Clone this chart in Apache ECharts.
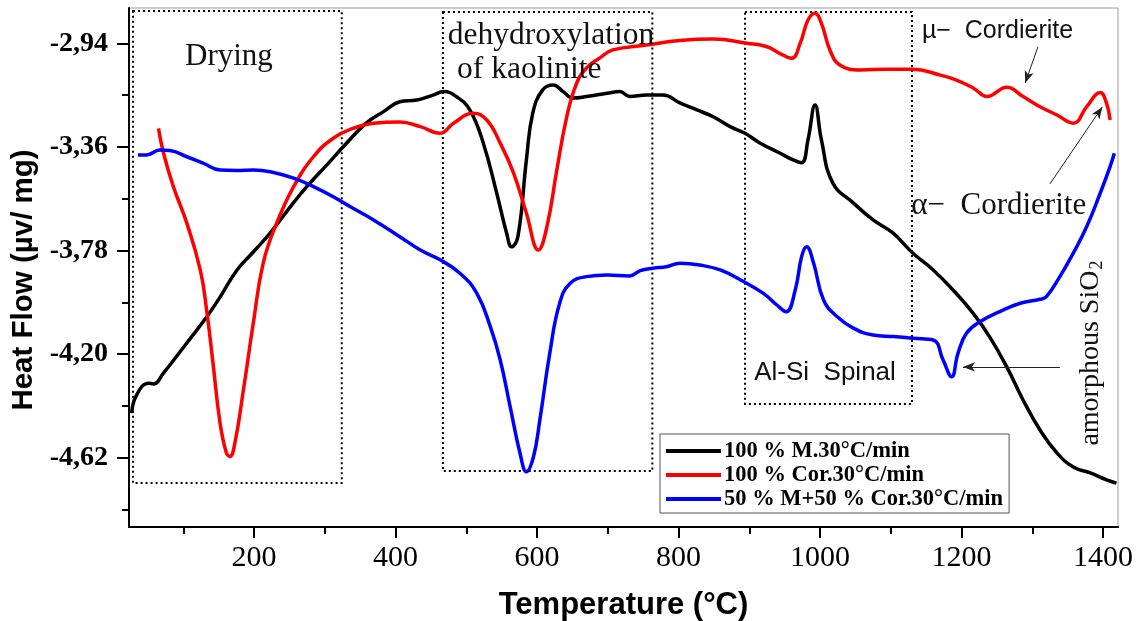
<!DOCTYPE html>
<html>
<head>
<meta charset="utf-8">
<script src="https://cdn.jsdelivr.net/npm/echarts@6/dist/echarts.min.js"></script>
<style>
  html, body { margin: 0; padding: 0; background: #fff; }
  #chart { width: 1140px; height: 621px; }
</style>
</head>
<body>
<div id="chart"></div>
<script>
// DSC heat-flow curves, temperature in °C, heat flow in µV/mg
const seriesNames = ['100 % M.30°C/min', '100 % Cor.30°C/min', '50 % M+50 % Cor.30°C/min'];

const tempM = [27,34,51,58,72,105,133,152,176,199,223,251,274,303,331,359,383,406,430,453,468,486,505,524,543,557,564,573,585,594,608,623,637,651,670,699,717,731,755,778,802,826,849,873,894,915,943,962,974,983,993,1002,1018,1047,1075,1103,1131,1160,1188,1216,1240,1264,1287,1311,1335,1358,1382,1405,1419];
const heatM = [-4.439,-4.366,-4.318,-4.321,-4.277,-4.155,-4.050,-3.969,-3.859,-3.786,-3.709,-3.604,-3.523,-3.433,-3.344,-3.263,-3.217,-3.177,-3.170,-3.150,-3.136,-3.156,-3.210,-3.344,-3.547,-3.709,-3.765,-3.724,-3.413,-3.223,-3.129,-3.109,-3.136,-3.162,-3.156,-3.143,-3.136,-3.156,-3.150,-3.150,-3.182,-3.210,-3.238,-3.278,-3.305,-3.344,-3.385,-3.413,-3.424,-3.332,-3.190,-3.332,-3.506,-3.587,-3.656,-3.709,-3.790,-3.859,-3.940,-4.033,-4.131,-4.252,-4.386,-4.508,-4.601,-4.658,-4.682,-4.710,-4.723];

const tempCor = [65,72,86,105,124,133,142,152,161,166,173,185,199,213,232,256,284,312,340,369,406,435,463,482,510,529,548,567,585,602,614,628,642,656,670,689,707,755,802,849,897,925,943,960,972,983,993,1002,1014,1028,1057,1094,1131,1170,1193,1217,1236,1264,1287,1311,1335,1358,1377,1396,1405,1410];
const heatCor = [-3.285,-3.385,-3.521,-3.669,-3.859,-4.021,-4.236,-4.479,-4.601,-4.615,-4.560,-4.346,-4.074,-3.831,-3.669,-3.521,-3.400,-3.325,-3.285,-3.264,-3.259,-3.278,-3.305,-3.264,-3.224,-3.251,-3.345,-3.467,-3.629,-3.778,-3.683,-3.454,-3.238,-3.102,-3.040,-2.999,-2.967,-2.947,-2.929,-2.923,-2.940,-2.954,-2.981,-3.001,-2.940,-2.846,-2.818,-2.859,-2.967,-3.028,-3.048,-3.045,-3.045,-3.069,-3.089,-3.122,-3.156,-3.118,-3.156,-3.197,-3.231,-3.264,-3.197,-3.140,-3.183,-3.251];

const tempMix = [36,48,67,81,105,128,152,176,199,223,256,284,312,340,369,406,435,463,491,515,534,548,562,576,585,595,604,618,632,647,670,699,731,746,764,783,802,830,859,892,920,939,952,965,974,981,991,1005,1024,1047,1075,1104,1132,1160,1174,1186,1195,1207,1226,1254,1283,1311,1320,1339,1358,1377,1396,1410,1416];
const heatMix = [-3.393,-3.393,-3.373,-3.375,-3.400,-3.426,-3.454,-3.456,-3.454,-3.461,-3.487,-3.521,-3.562,-3.609,-3.656,-3.724,-3.778,-3.818,-3.872,-3.954,-4.089,-4.224,-4.413,-4.602,-4.677,-4.616,-4.467,-4.197,-3.994,-3.913,-3.886,-3.879,-3.883,-3.862,-3.852,-3.846,-3.832,-3.839,-3.859,-3.906,-3.954,-4.001,-4.028,-3.940,-3.805,-3.765,-3.832,-3.981,-4.048,-4.095,-4.123,-4.129,-4.136,-4.143,-4.224,-4.292,-4.197,-4.116,-4.069,-4.028,-3.994,-3.978,-3.967,-3.886,-3.791,-3.683,-3.548,-3.440,-3.386];

// Axis ticks
const xMajorTicks = [200, 400, 600, 800, 1000, 1200, 1400];
const xMinorTicks = [100, 300, 500, 700, 900, 1100, 1300];
const yMajorTicks = [-4.62, -4.20, -3.78, -3.36, -2.94];
const yMinorTicks = [-4.83, -4.41, -3.99, -3.57, -3.15];

// Temperature ranges of the reaction stages (dotted boxes): [t0, t1, top, bottom]
const stageBoxes = [
  [29, 324, -2.809, -4.723],
  [467, 763, -2.813, -4.674],
  [894, 1130, -2.813, -4.402]
];

// Pointer arrows: [fromT, fromHF, toT, toHF]
const arrows = [
  [1308, -2.955, 1290, -3.101],
  [1325, -3.510, 1399, -3.198],
  [1339, -4.252, 1202, -4.252]
];

const X_MIN = 23.3, X_MAX = 1421.2, Y_MIN = -4.901, Y_MAX = -2.797;
const SERIF = "'Liberation Serif', 'Times New Roman', serif";
const SANS = "'Liberation Sans', Arial, sans-serif";
const colors = ['#000000', '#ff0000', '#0000ff'];

const zip = (xs, ys) => xs.map((x, i) => [x, ys[i]]);
const curves = [zip(tempM, heatM), zip(tempCor, heatCor), zip(tempMix, heatMix)];

const chart = echarts.init(document.getElementById('chart'), null, { renderer: 'canvas' });

const axisBase = { min: X_MIN, max: X_MAX, type: 'value', splitLine: { show: false } };

const option = {
  animation: false,
  backgroundColor: '#ffffff',
  grid: {
    left: 129, right: 22, top: 8, bottom: 94,
    outerBoundsMode: 'none', containLabel: false,
    show: true, borderColor: '#9a9a9a', borderWidth: 1
  },
  xAxis: [
    Object.assign({}, axisBase, {
      position: 'bottom',
      name: 'Temperature (°C)',
      nameLocation: 'middle',
      nameGap: 63,
      nameTextStyle: { fontFamily: SANS, fontWeight: 'bold', fontSize: 31, color: '#000' },
      axisLine: { show: true, lineStyle: { color: '#000', width: 2 } },
      axisTick: { show: true, customValues: xMajorTicks, length: 11, lineStyle: { color: '#000', width: 2 } },
      axisLabel: { customValues: xMajorTicks, margin: 16, fontFamily: SERIF, fontSize: 30, color: '#000', formatter: v => String(v) }
    }),
    Object.assign({}, axisBase, {
      position: 'bottom',
      axisLine: { show: false },
      axisTick: { show: true, customValues: xMinorTicks, length: 7, lineStyle: { color: '#000', width: 2 } },
      axisLabel: { show: false }
    })
  ],
  yAxis: [
    {
      type: 'value', min: Y_MIN, max: Y_MAX, position: 'left', splitLine: { show: false },
      axisLine: { show: true, lineStyle: { color: '#000', width: 2 } },
      axisTick: { show: true, customValues: yMajorTicks, length: 12, lineStyle: { color: '#000', width: 2 } },
      axisLabel: {
        customValues: yMajorTicks, margin: 21, fontFamily: SERIF, fontWeight: 'bold', fontSize: 28, color: '#000',
        formatter: v => v.toFixed(2).replace('.', ',')
      }
    },
    {
      type: 'value', min: Y_MIN, max: Y_MAX, position: 'left', splitLine: { show: false },
      axisLine: { show: false },
      axisTick: { show: true, customValues: yMinorTicks, length: 7, lineStyle: { color: '#000', width: 2 } },
      axisLabel: { show: false }
    }
  ],
  legend: {
    data: seriesNames,
    orient: 'vertical',
    left: 660, top: 434,
    backgroundColor: '#ffffff',
    borderColor: '#555', borderWidth: 1,
    padding: [5, 6, 2, 6],
    itemGap: 0,
    icon: 'rect', itemWidth: 55, itemHeight: 4,
    textStyle: { fontFamily: SERIF, fontWeight: 'bold', fontSize: 22.5, color: '#000', lineHeight: 24, padding: [0, 0, 0, -2] }
  },
  series: curves.map((data, i) => ({
    name: seriesNames[i],
    type: 'line',
    xAxisIndex: 0, yAxisIndex: 0,
    data: data,
    smooth: 0.45,
    showSymbol: false,
    symbol: 'none',
    color: colors[i],
    lineStyle: { color: colors[i], width: 3.5 },
    z: 3 + i
  }))
};

// stage boxes and arrows ride on the first curve
option.series[0].markArea = {
  silent: true,
  label: { show: false },
  itemStyle: { color: 'rgba(0,0,0,0)', borderColor: '#000', borderWidth: 2, borderType: [2, 3] },
  data: stageBoxes.map(b => [{ coord: [b[0], b[2]] }, { coord: [b[1], b[3]] }])
};
option.series[0].markLine = {
  silent: true,
  symbol: ['none', 'arrow'],
  symbolSize: [7, 12],
  label: { show: false },
  lineStyle: { color: '#222', width: 1, type: 'solid' },
  data: arrows.map(a => [{ coord: [a[0], a[1]] }, { coord: [a[2], a[3]] }])
};

chart.setOption(option);

// Text annotations placed at temperature / heat-flow positions
const notes = [
  { text: 'Drying', at: [102.5, -2.996], font: SERIF, size: 31 },
  { text: 'dehydroxylation', at: [474, -2.910], font: SERIF, size: 31.5 },
  { text: 'of kaolinite', at: [487, -3.048], font: SERIF, size: 31.5 },
  { text: 'µ−  Cordierite', at: [1144, -2.890], font: SANS, size: 25 },
  { text: 'α−  Cordierite', at: [1129, -3.599], font: SERIF, size: 31 },
  { text: 'Al-Si  Spinal', at: [907, -4.276], font: SANS, size: 26 }
];

const px = p => chart.convertToPixel({ seriesIndex: 0 }, p);

const graphics = notes.map(n => {
  const p = px(n.at);
  return {
    type: 'text', x: p[0], y: p[1], silent: true, z: 20,
    style: { text: n.text, fontFamily: n.font, fontSize: n.size, fill: '#111', align: 'left', verticalAlign: 'middle' }
  };
});

const sio2 = px([1383, -4.196]);
graphics.push({
  type: 'text', x: sio2[0], y: sio2[1], rotation: Math.PI / 2, silent: true, z: 20,
  style: {
    text: '{a|amorphous SiO}{s|2}',
    align: 'center', verticalAlign: 'middle',
    rich: {
      a: { fontFamily: SERIF, fontSize: 28, fill: '#111', lineHeight: 30 },
      s: { fontFamily: SERIF, fontSize: 18, fill: '#111', lineHeight: 30, verticalAlign: 'bottom', padding: [0, 0, 0, 1] }
    }
  }
});

// y-axis title
graphics.push({
  type: 'text', x: 24, y: 280, rotation: Math.PI / 2, silent: true,
  style: { text: 'Heat Flow (µv/ mg)', fontFamily: SANS, fontWeight: 'bold', fontSize: 29.5, fill: '#000', align: 'center', verticalAlign: 'middle' }
});

chart.setOption({ graphic: graphics });
</script>
</body>
</html>
